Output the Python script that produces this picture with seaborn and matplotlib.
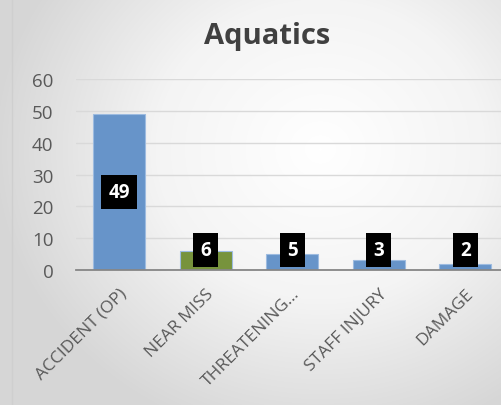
import numpy as np
import pandas as pd
import seaborn as sns
import matplotlib.pyplot as plt
from matplotlib.colors import LinearSegmentedColormap

# chart data
categories = ['ACCIDENT (OP)', 'NEAR MISS', 'THREATENING...', 'STAFF INJURY', 'DAMAGE']
counts = [49, 6, 5, 3, 2]
bar_colors = ['#6794c9', '#77933c', '#6794c9', '#6794c9', '#6794c9']

df = pd.DataFrame({'category': categories, 'count': counts})

sns.set_style('white')
plt.rcParams['font.family'] = ['Open Sans', 'DejaVu Sans']

fig = plt.figure(figsize=(5.02, 4.06), dpi=100)

# radial gradient backdrop (slide look)
bg = fig.add_axes([0, 0, 1, 1], zorder=-10)
yy, xx = np.mgrid[0:406, 0:502]
r = np.sqrt(((xx - 320) / 330.0) ** 2 + ((yy - 150) / 300.0) ** 2)
cmap_bg = LinearSegmentedColormap.from_list('bg', ['#ffffff', '#f4f4f4', '#d6d6d6'])
bg.imshow(np.clip(r, 0, 1), cmap=cmap_bg, vmin=0, vmax=1, aspect='auto')
bg.axvline(12, color='#cfcfcf', lw=1)
bg.axis('off')

ax = fig.add_axes([0.151, 0.3325, 0.862, 0.470])
ax.patch.set_alpha(0)
sns.barplot(data=df, x='category', y='count', hue='category', palette=bar_colors,
            saturation=1, legend=False, width=0.6, edgecolor='#9dbbe0', linewidth=0.8,
            ax=ax, zorder=3)

ax.set_ylim(0, 60)
ax.set_xlim(-0.5, 4.5)
ax.set_yticks(range(0, 61, 10))
ax.yaxis.grid(True, color='#d9d9d9', lw=1)
ax.set_axisbelow(True)
for s in ['top', 'right', 'left']:
    ax.spines[s].set_visible(False)
ax.spines['bottom'].set_color('#868686')
ax.spines['bottom'].set_linewidth(1.3)
ax.spines['bottom'].set_zorder(4)

ax.tick_params(axis='y', length=0, labelsize=13.5, labelcolor='#595959', pad=16)
ax.tick_params(axis='x', which='major', length=0, labelsize=12.5, labelcolor='#595959', pad=11)
ax.set_xticks(np.arange(-0.5, 4.5, 1), minor=True)
ax.tick_params(axis='x', which='minor', length=5, width=1.3, color='#868686', direction='out')
ax.set_xticks(range(len(categories)))
ax.set_xticklabels(categories, rotation=45, ha='right', rotation_mode='anchor')
ax.set_xlabel('')
ax.set_ylabel('')

# data labels in black boxes
for i, v in enumerate(counts):
    ax.text(i, max(v / 2, 6.2), str(v), ha='center', va='center', color='white',
            fontsize=13.5, fontweight='bold', zorder=5,
            bbox=dict(boxstyle='square,pad=0.38', fc='black', ec='none'))

fig.text(0.532, 0.91, 'Aquatics', ha='center', va='center', fontsize=21,
         fontweight='bold', color='#404040')

fig.savefig('out.png', dpi=100)
